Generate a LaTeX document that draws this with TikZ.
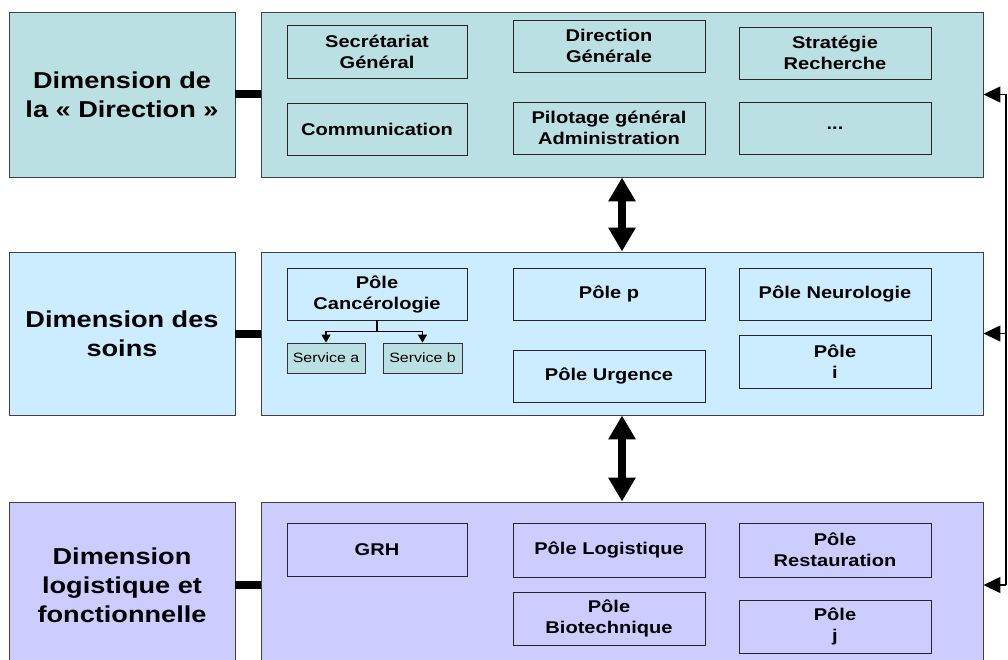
\documentclass[tikz,border=0pt]{standalone}
\usepackage{fontspec}
\setmainfont{Liberation Sans}[FakeStretch=1.18]
\usetikzlibrary{arrows.meta}
\definecolor{dircol}{HTML}{BBE0E3}
\definecolor{soincol}{HTML}{CCECFF}
\definecolor{logcol}{HTML}{CCCCFF}
\tikzset{
  dimbox/.style={draw=black!75, line width=0.9pt, minimum width=226pt, inner sep=0pt, align=center, font=\bfseries\fontsize{23}{29}\selectfont},
  groupbox/.style={draw=black!75, line width=0.9pt, minimum width=722pt, inner sep=0pt},
  polebox/.style={draw=black!85, line width=0.9pt, minimum width=192pt, minimum height=52pt, inner sep=0pt, align=center, font=\bfseries\fontsize{17}{21}\selectfont},
  servbox/.style={draw=black!80, fill=dircol, line width=0.8pt, minimum height=30pt, inner sep=0pt, font=\fontsize{13.5}{16}\selectfont},
  bar/.style={line width=8pt},
  bigarrow/.style={line width=8pt, {Triangle[width=26pt,length=24pt]}-{Triangle[width=26pt,length=24pt]}},
  railarrow/.style={line width=1.5pt, -{Triangle[width=16pt,length=17pt]}},
  servarrow/.style={line width=1.2pt, -{Triangle[width=9pt,length=8pt]}}
}
\begin{document}
\begin{tikzpicture}[x=1pt,y=-1pt]
\useasboundingbox (0,0) rectangle (1008,660);
% direction
\node[dimbox, fill=dircol, minimum height=165pt] (dirL) at (122,94.5) {Dimension de\\la « Direction »};
\node[groupbox, fill=dircol, minimum height=165pt] (dirR) at (622,94.5) {};
\node[polebox, minimum width=180pt, minimum height=53pt] (secr) at (377,51.5) {Secrétariat\\Général};
\node[polebox] (dg) at (609,46) {Direction\\Générale};
\node[polebox] (strat) at (835,53) {Stratégie\\Recherche};
\node[polebox, minimum width=180pt] (comm) at (377,129) {Communication};
\node[polebox] (pilot) at (609,128) {Pilotage général\\Administration};
\node[polebox] (autre) at (835,128) {...};
% soins
\node[dimbox, fill=soincol, minimum height=163pt] (soinsL) at (122,333.5) {Dimension des\\soins};
\node[groupbox, fill=soincol, minimum height=163pt] (soinsR) at (622,333.5) {};
\node[polebox, minimum width=180pt] (canc) at (377,294) {Pôle\\Cancérologie};
\node[servbox, minimum width=78pt] (serva) at (326,358) {Service a};
\node[servbox, minimum width=79pt] (servb) at (422.5,358) {Service b};
\node[polebox] (polep) at (609,294) {Pôle p};
\node[polebox] (urg) at (609,376) {Pôle Urgence};
\node[polebox] (neuro) at (835,294) {Pôle Neurologie};
\node[polebox, minimum height=53pt] (polei) at (835,361.5) {Pôle\\i};
% logistique
\node[dimbox, fill=logcol, minimum height=166pt] (logL) at (122,585) {Dimension\\logistique et\\fonctionnelle};
\node[groupbox, fill=logcol, minimum height=166pt] (logR) at (622,585) {};
\node[polebox, minimum width=180pt, minimum height=53pt] (grh) at (377,549.5) {GRH};
\node[polebox, minimum height=54pt] (logi) at (609,550) {Pôle Logistique};
\node[polebox, minimum height=54pt] (resto) at (835,550) {Pôle\\Restauration};
\node[polebox, minimum height=53pt] (biot) at (609,618.5) {Pôle\\Biotechnique};
\node[polebox, minimum height=53pt] (polej) at (835,626.5) {Pôle\\j};
% liaisons
\draw[bar] (dirL.east) -- (dirR.west);
\draw[bar] (soinsL.east) -- (soinsR.west);
\draw[bar] (logL.east) -- (logR.west);
\draw[bigarrow] (dirR.south) -- (soinsR.north);
\draw[bigarrow] (soinsR.south) -- (logR.north);
\draw[line width=1.2pt] (canc.south) -- ++(0,11) coordinate (split);
\draw[servarrow] (split) -| (serva.north);
\draw[servarrow] (split) -| (servb.north);
\coordinate (rail) at (1006,0);
\draw[line width=1.5pt] (dirR.east -| rail) -- (logR.east -| rail);
\draw[railarrow] (dirR.east -| rail) -- (dirR.east);
\draw[railarrow] (soinsR.east -| rail) -- (soinsR.east);
\draw[railarrow] (logR.east -| rail) -- (logR.east);
\end{tikzpicture}
\end{document}
